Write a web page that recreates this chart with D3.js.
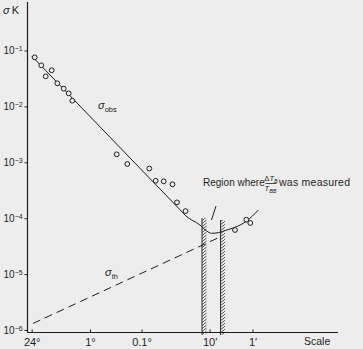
<!DOCTYPE html>
<html>
<head>
<meta charset="utf-8">
<script src="https://cdn.jsdelivr.net/npm/d3@7"></script>
<style>
  html, body { margin: 0; padding: 0; background: #ededed; }
  svg { display: block; font-family: "Liberation Sans", Arial, sans-serif; }
</style>
</head>
<body>
<svg id="chart" width="363" height="349"></svg>
<script>
// Angular scale positions along the horizontal axis (arbitrary axis units)
const scaleTickPos = [1.35, 20.13, 36.72, 58.65, 72.46];
const scaleTickLabels = ["24°", "1°", "0.1°", "10′", "1′"];

// Vertical axis decades (sigma in K)
const sigmaTickValues = [1e-1, 1e-2, 1e-3, 1e-4, 1e-5, 1e-6];
const sigmaTickExps = ["−1", "−2", "−3", "−4", "−5", "−6"];

// Observed upper limits (open circles)
const obsPos   = [2.32, 4.44, 7.79, 5.86, 9.60, 11.66, 13.27, 14.43, 28.73, 32.14,
                  39.23, 41.29, 43.86, 46.70, 48.15, 50.89, 66.83, 70.47, 71.76];
const obsSigma = [0.0755, 0.0543, 0.0443, 0.0345, 0.0259, 0.0208, 0.0171, 0.01265, 0.00139, 0.000933,
                  0.000774, 0.000467, 0.000457, 0.000404, 0.000192, 0.000134, 6.15e-5, 9.4e-5, 8.2e-5];

// Observed envelope curve
const curvePos   = [1.35, 23.35, 42.67, 49.11, 51.05, 55.56, 57.71, 59.32, 61.45, 64.15, 66.83, 70.60, 74.33];
const curveSigma = [0.0798, 4.31e-3, 3.33e-4, 1.42e-4, 1.094e-4, 7.55e-5, 5.90e-5, 5.37e-5, 5.51e-5, 6.15e-5, 6.87e-5, 8.91e-5, 1.40e-4];

// Theoretical prediction (dashed)
const thPos   = [1.77, 62.0];
const thSigma = [1.31e-6, 4.61e-5];

// Hatched limits of the measured region
const regionPos   = [56.52, 62.48];
const regionSigma = [1.0e-4, 9.3e-5];

// Leader line from the annotation
const leaderPos   = [60.71, 59.26];
const leaderSigma = [1.65e-4, 9.29e-5];

const ink = "#1e1e1e";
const svg = d3.select("#chart");

const axisX = 27.5, axisY = 332.5;
const x = d3.scaleLinear().domain([0, 100]).range([27.5, 338]);
const y = d3.scaleLog().domain([1e-6, 1e-1]).range([330, 50.5]);

// hatch pattern for the region limits
const defs = svg.append("defs");
const pat = defs.append("pattern")
  .attr("id", "hatch").attr("patternUnits", "userSpaceOnUse")
  .attr("width", 4).attr("height", 3);
pat.append("line").attr("x1", 0).attr("y1", 3).attr("x2", 4).attr("y2", 0)
  .attr("stroke", ink).attr("stroke-width", 0.8);

// Axis lines
svg.append("line").attr("x1", axisX).attr("x2", axisX).attr("y1", 2).attr("y2", axisY)
  .attr("stroke", ink).attr("stroke-width", 1.2);
svg.append("line").attr("x1", axisX).attr("x2", 338).attr("y1", axisY).attr("y2", axisY)
  .attr("stroke", ink).attr("stroke-width", 1.2);

// Y axis ticks
const yAxis = d3.axisLeft(y).tickValues(sigmaTickValues).tickSize(3).tickPadding(4).tickFormat(() => "");
const gy = svg.append("g").attr("transform", `translate(${axisX},0)`).call(yAxis);
gy.select(".domain").remove();
gy.selectAll(".tick line").attr("stroke", ink);
gy.selectAll(".tick").each(function(d, i) {
  const t = d3.select(this).select("text")
    .attr("fill", ink).attr("font-size", 10).attr("x", -24).attr("dy", "0.32em")
    .attr("text-anchor", "start");
  t.append("tspan").text("10");
  t.append("tspan").attr("font-size", 7).attr("dy", "-0.45em").text(sigmaTickExps[i]);
});

// X axis ticks
const xAxis = d3.axisBottom(x).tickValues(scaleTickPos).tickSizeInner(-3).tickSizeOuter(0)
  .tickPadding(6).tickFormat((d, i) => scaleTickLabels[i]);
const gx = svg.append("g").attr("transform", `translate(0,${axisY})`).call(xAxis);
gx.select(".domain").remove();
gx.selectAll(".tick line").attr("stroke", ink);
gx.selectAll(".tick text").attr("fill", ink).attr("font-size", 11);

svg.append("text").attr("x", 304).attr("y", 345).attr("font-size", 10.5).attr("fill", ink).text("Scale");

// y-axis title
const yt = svg.append("text").attr("x", 3).attr("y", 14).attr("font-size", 11).attr("fill", ink);
yt.append("tspan").attr("font-style", "italic").text("σ");
yt.append("tspan").attr("dx", 2).text("K");

// Hatched region limits
regionPos.forEach((p, i) => {
  const top = y(regionSigma[i]);
  svg.append("rect").attr("x", x(p) - 1).attr("y", top).attr("width", 4.5).attr("height", axisY + 2 - top)
    .attr("fill", "url(#hatch)");
  svg.append("line").attr("x1", x(p) - 1).attr("x2", x(p) - 1).attr("y1", top).attr("y2", axisY + 2.5)
    .attr("stroke", ink).attr("stroke-width", 0.9);
});

// Theory dashed line
const thData = thPos.map((p, i) => [p, thSigma[i]]);
svg.append("path").datum(thData)
  .attr("d", d3.line().x(d => x(d[0])).y(d => y(d[1])))
  .attr("fill", "none").attr("stroke", ink).attr("stroke-width", 1).attr("stroke-dasharray", "8,5");

// Observed curve
const cData = curvePos.map((p, i) => [p, curveSigma[i]]);
svg.append("path").datum(cData)
  .attr("d", d3.line().x(d => x(d[0])).y(d => y(d[1])).curve(d3.curveMonotoneX))
  .attr("fill", "none").attr("stroke", ink).attr("stroke-width", 1);

// Leader line
const lData = leaderPos.map((p, i) => [p, leaderSigma[i]]);
svg.append("path").datum(lData)
  .attr("d", d3.line().x(d => x(d[0])).y(d => y(d[1])))
  .attr("fill", "none").attr("stroke", ink).attr("stroke-width", 1);

// Observation circles
svg.append("g").selectAll("circle")
  .data(obsPos.map((p, i) => [p, obsSigma[i]]))
  .join("circle")
  .attr("cx", d => x(d[0])).attr("cy", d => y(d[1])).attr("r", 2.4)
  .attr("fill", "#ededed").attr("stroke", ink).attr("stroke-width", 1);

// Curve labels
const lo = svg.append("text").attr("x", 98).attr("y", 109).attr("fill", ink).attr("font-size", 11);
lo.append("tspan").attr("font-style", "italic").text("σ");
lo.append("tspan").attr("font-size", 7.5).attr("dy", 2.5).text("obs");
const lt = svg.append("text").attr("x", 105).attr("y", 276).attr("fill", ink).attr("font-size", 11);
lt.append("tspan").attr("font-style", "italic").text("σ");
lt.append("tspan").attr("font-size", 7.5).attr("dy", 2.5).text("th");

// Region annotation
svg.append("text").attr("x", 203).attr("y", 186).attr("fill", ink).attr("font-size", 10).text("Region where");
const num = svg.append("text").attr("x", 271).attr("y", 181).attr("fill", ink).attr("font-size", 7.5).attr("text-anchor", "middle");
num.append("tspan").text("Δ");
num.append("tspan").attr("font-style", "italic").text("T");
num.append("tspan").attr("font-style", "italic").attr("font-size", 5.5).attr("dy", 1.5).text("B");
svg.append("line").attr("x1", 265.5).attr("x2", 276.5).attr("y1", 183.5).attr("y2", 183.5).attr("stroke", ink).attr("stroke-width", 0.8);
const den = svg.append("text").attr("x", 270.5).attr("y", 191).attr("fill", ink).attr("font-size", 7.5).attr("text-anchor", "middle");
den.append("tspan").attr("font-style", "italic").text("T");
den.append("tspan").attr("font-style", "italic").attr("font-size", 5.5).attr("dy", 1.5).text("BB");
svg.append("text").attr("x", 279).attr("y", 186).attr("fill", ink).attr("font-size", 10.5)
  .attr("letter-spacing", 0.25).text("was measured");
</script>
</body>
</html>
